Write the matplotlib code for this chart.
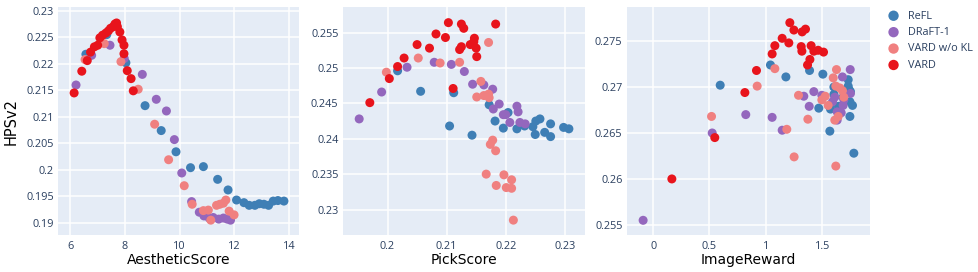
import matplotlib.pyplot as plt
import numpy as np

methods = ["ReFL", "DRaFT-1", "VARD w/o KL", "VARD"]
colors = ["#3f7fb5", "#9467bd", "#f08080", "#e8141c"]

# AestheticScore vs HPSv2
aes_x = {
    "ReFL": [6.58, 7.34, 8.04, 8.74, 9.33, 9.87, 10.40, 10.87, 11.39, 11.77, 12.08, 12.35,
             12.54, 12.75, 12.91, 13.08, 13.25, 13.42, 13.59, 13.81],
    "DRaFT-1": [6.22, 6.79, 7.46, 7.98, 8.64, 9.15, 9.52, 9.81, 10.08, 10.44, 10.72, 10.89,
                11.08, 11.23, 11.43, 11.60, 11.74, 11.86],
    "VARD w/o KL": [6.55, 7.25, 7.86, 8.49, 9.09, 9.60, 10.17, 10.46, 10.87, 11.05, 11.14,
                    11.35, 11.47, 11.60, 11.69, 11.81, 11.99],
    "VARD": [6.15, 6.43, 6.63, 6.75, 6.89, 7.01, 7.09, 7.19, 7.31, 7.40, 7.48, 7.58, 7.64,
             7.70, 7.73, 7.82, 7.90, 7.97, 7.97, 8.09, 8.23, 8.31],
}
aes_y = {
    "ReFL": [0.2218, 0.2255, 0.2202, 0.2121, 0.2074, 0.2034, 0.2004, 0.2006, 0.1982, 0.1962,
             0.1943, 0.1938, 0.1933, 0.1933, 0.1936, 0.1935, 0.1933, 0.1941, 0.1942, 0.1941],
    "DRaFT-1": [0.2160, 0.2216, 0.2235, 0.2210, 0.2180, 0.2133, 0.2111, 0.2057, 0.1994,
                0.1940, 0.1920, 0.1913, 0.1909, 0.1910, 0.1907, 0.1909, 0.1907, 0.1905],
    "VARD w/o KL": [0.2208, 0.2238, 0.2204, 0.2152, 0.2086, 0.2019, 0.1970, 0.1935, 0.1923,
                    0.1924, 0.1905, 0.1933, 0.1935, 0.1937, 0.1943, 0.1922, 0.1915],
    "VARD": [0.2145, 0.2186, 0.2206, 0.2222, 0.2232, 0.2235, 0.2249, 0.2254, 0.2258, 0.2262,
             0.2267, 0.2270, 0.2275, 0.2277, 0.2270, 0.2260, 0.2245, 0.2235, 0.2219, 0.2187,
             0.2172, 0.2149],
}

# PickScore vs HPSv2
pick_x = {
    "ReFL": [0.2017, 0.2056, 0.2105, 0.2112, 0.2143, 0.2172, 0.2182, 0.2196, 0.2204, 0.2219,
             0.2232, 0.2246, 0.2251, 0.2250, 0.2258, 0.2266, 0.2276, 0.2276, 0.2298, 0.2307],
    "DRaFT-1": [0.1952, 0.1990, 0.2033, 0.2079, 0.2108, 0.2130, 0.2144, 0.2163, 0.2178,
                0.2189, 0.2179, 0.2196, 0.2200, 0.2219, 0.2221, 0.2207, 0.2224, 0.2233],
    "VARD w/o KL": [0.1998, 0.2052, 0.2089, 0.2122, 0.2171, 0.2158, 0.2151, 0.2163, 0.2171,
                    0.2172, 0.2174, 0.2178, 0.2183, 0.2167, 0.2197, 0.2210, 0.2184, 0.2201,
                    0.2210, 0.2213],
    "VARD": [0.1970, 0.2003, 0.2017, 0.2028, 0.2050, 0.2071, 0.2082, 0.2098, 0.2103, 0.2111,
             0.2125, 0.2129, 0.2122, 0.2125, 0.2140, 0.2146, 0.2147, 0.2150, 0.2151, 0.2183],
}
pick_y = {
    "ReFL": [0.2496, 0.2467, 0.2418, 0.2465, 0.2405, 0.2448, 0.2425, 0.2415, 0.2437, 0.2414,
             0.2418, 0.2417, 0.2425, 0.2406, 0.2428, 0.2409, 0.2421, 0.2403, 0.2416, 0.2414],
    "DRaFT-1": [0.2428, 0.2466, 0.2501, 0.2508, 0.2505, 0.2495, 0.2477, 0.2476, 0.2470,
                0.2449, 0.2442, 0.2434, 0.2434, 0.2446, 0.2438, 0.2423, 0.2423, 0.2421],
    "VARD w/o KL": [0.2494, 0.2514, 0.2507, 0.2508, 0.2536, 0.2481, 0.2459, 0.2461, 0.2463,
                    0.2458, 0.2392, 0.2398, 0.2383, 0.2350, 0.2349, 0.2342, 0.2334, 0.2331,
                    0.2330, 0.2285],
    "VARD": [0.2451, 0.2485, 0.2502, 0.2514, 0.2533, 0.2528, 0.2548, 0.2543, 0.2564, 0.2471,
             0.2562, 0.2556, 0.2526, 0.2530, 0.2533, 0.2537, 0.2542, 0.2528, 0.2516, 0.2562],
}

# ImageReward vs HPSv2
ir_x = {
    "ReFL": [0.595, 1.041, 1.178, 1.388, 1.506, 1.470, 1.568, 1.574, 1.604, 1.604, 1.645,
             1.686, 1.731, 1.731, 1.746, 1.740, 1.746, 1.769, 1.781, 1.751],
    "DRaFT-1": [-0.089, 0.524, 0.822, 1.056, 1.145, 1.337, 1.385, 1.426, 1.497, 1.592, 1.612,
                1.633, 1.633, 1.669, 1.680, 1.686, 1.692, 1.749, 1.751],
    "VARD w/o KL": [0.518, 0.923, 1.080, 1.186, 1.251, 1.290, 1.373, 1.497, 1.527, 1.553,
                    1.598, 1.627, 1.621, 1.612, 1.621, 1.642, 1.657, 1.680, 1.692],
    "VARD": [0.166, 0.547, 0.814, 0.917, 1.056, 1.080, 1.145, 1.204, 1.213, 1.249, 1.314,
             1.320, 1.322, 1.352, 1.370, 1.391, 1.402, 1.426, 1.464, 1.512],
}
ir_y = {
    "ReFL": [0.2702, 0.2724, 0.2711, 0.2718, 0.2714, 0.2677, 0.2652, 0.2676, 0.2692, 0.2700,
             0.2679, 0.2689, 0.2708, 0.2701, 0.2684, 0.2697, 0.2668, 0.2680, 0.2628, 0.2695],
    "DRaFT-1": [0.2555, 0.2650, 0.2670, 0.2667, 0.2653, 0.2690, 0.2679, 0.2695, 0.2691,
                0.2684, 0.2689, 0.2673, 0.2664, 0.2672, 0.2711, 0.2680, 0.2686, 0.2719, 0.2693],
    "VARD w/o KL": [0.2668, 0.2701, 0.2720, 0.2654, 0.2624, 0.2691, 0.2665, 0.2686, 0.2690,
                    0.2680, 0.2710, 0.2719, 0.2701, 0.2664, 0.2614, 0.2668, 0.2699, 0.2696,
                    0.2689],
    "VARD": [0.2600, 0.2645, 0.2694, 0.2718, 0.2736, 0.2745, 0.2753, 0.2748, 0.2770, 0.2762,
             0.2744, 0.2739, 0.2760, 0.2763, 0.2724, 0.2730, 0.2745, 0.2739, 0.2740, 0.2738],
}

tick_color = "#2a3f5f"

fig = plt.figure(figsize=(9.79, 2.72), dpi=100)

panels = [
    (aes_x, aes_y, "AestheticScore", [0.0592, 0.136, 0.2462, 0.838],
     (5.56, 14.36), (0.1877, 0.2307), [6, 8, 10, 12, 14],
     [0.19, 0.195, 0.2, 0.205, 0.21, 0.215, 0.22, 0.225, 0.23]),
    (pick_x, pick_y, "PickScore", [0.350, 0.136, 0.248, 0.838],
     (0.1924, 0.2335), (0.2264, 0.2586), [0.2, 0.21, 0.22, 0.23],
     [0.23, 0.235, 0.24, 0.245, 0.25, 0.255]),
    (ir_x, ir_y, "ImageReward", [0.640, 0.136, 0.2485, 0.838],
     (-0.236, 1.923), (0.2539, 0.2787), [0, 0.5, 1, 1.5],
     [0.255, 0.26, 0.265, 0.27, 0.275]),
]

def fmt(v):
    return ("%g" % v)

handles = []
for i, (xs, ys, xlabel, pos, xlim, ylim, xt, yt) in enumerate(panels):
    ax = fig.add_axes(pos)
    ax.set_facecolor("#e5ecf6")
    for m, c in zip(methods, colors):
        h = ax.scatter(xs[m], ys[m], s=42, color=c, edgecolors="none", label=m, zorder=3)
        if i == 0:
            handles.append(h)
    ax.set_xlim(*xlim)
    ax.set_ylim(*ylim)
    ax.set_xticks(xt)
    ax.set_xticklabels([fmt(v) for v in xt])
    ax.set_yticks(yt)
    ax.set_yticklabels([fmt(v) for v in yt])
    ax.grid(True, color="white", linewidth=1.1, zorder=0)
    ax.set_axisbelow(True)
    for s in ax.spines.values():
        s.set_visible(False)
    ax.tick_params(length=0, labelsize=7.8, labelcolor=tick_color)
    ax.tick_params(axis="y", pad=3)
    ax.tick_params(axis="x", pad=4)
    for lab in ax.get_xticklabels() + ax.get_yticklabels():
        lab.set_family("Open Sans")
    ax.set_xlabel(xlabel, fontsize=10, color="black", labelpad=1)
    if i == 0:
        ax.set_ylabel("HPSv2", fontsize=10.5, color="black")
        ax.yaxis.set_label_coords(-0.165, 0.5)

fig.legend(handles=handles, loc="upper left", bbox_to_anchor=(0.895, 0.985),
           frameon=False, labelcolor=tick_color, handletextpad=0.3,
           labelspacing=0.5, borderaxespad=0.2, markerscale=1.15,
           prop={"family": "Open Sans", "size": 7.8})

plt.savefig("out.png", dpi=100)
